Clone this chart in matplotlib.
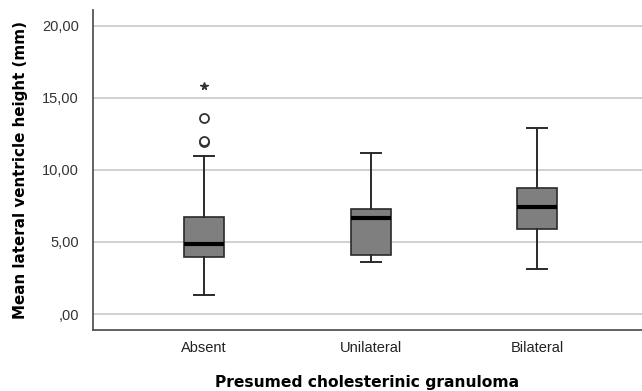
import matplotlib.pyplot as plt

# group names and five-number summaries (mm)
groups = ['Absent', 'Unilateral', 'Bilateral']
q1 = [3.99, 4.07, 5.88]
median = [4.86, 6.64, 7.43]
q3 = [6.76, 7.31, 8.73]
whisker_low = [1.32, 3.61, 3.10]
whisker_high = [10.97, 11.18, 12.92]
outliers = [[11.92, 11.98, 13.59], [], []]
extremes = [[15.80], [], []]

yticks = [0, 5, 10, 15, 20]
ytick_labels = [',00', '5,00', '10,00', '15,00', '20,00']

stats = []
for i, name in enumerate(groups):
    stats.append({
        'label': name,
        'q1': q1[i], 'med': median[i], 'q3': q3[i],
        'whislo': whisker_low[i], 'whishi': whisker_high[i],
        'fliers': outliers[i],
    })

fig = plt.figure(figsize=(6.42, 3.91), dpi=100)
ax = fig.add_axes([93/642, 1 - 330/391, 549/642, 320/391])

pos = list(range(len(groups)))
ax.bxp(stats, positions=pos, widths=0.24, patch_artist=True,
       boxprops=dict(facecolor='#7f7f7f', edgecolor='#2a2a2a', linewidth=1.2),
       medianprops=dict(color='black', linewidth=3),
       whiskerprops=dict(color='#2a2a2a', linewidth=1.4),
       capprops=dict(color='#2a2a2a', linewidth=1.4),
       capwidths=0.12,
       flierprops=dict(marker='o', markerfacecolor='white', markeredgecolor='#333333',
                       markersize=6.5, markeredgewidth=1.3),
       zorder=3)

for i, vals in enumerate(extremes):
    if vals:
        ax.plot([pos[i]] * len(vals), vals, linestyle='none', marker='*',
                color='#333333', markersize=5.5, zorder=3)

ax.set_xlim(-0.667, 2.63)
ax.set_ylim(-1.11, 21.1)
ax.set_yticks(yticks)
ax.set_yticklabels(ytick_labels, fontfamily='Liberation Sans', fontsize=10.5, color='#333333')
ax.set_xticks(pos)
ax.set_xticklabels(groups, fontfamily='Liberation Sans', fontsize=10.5, color='#222222')
ax.tick_params(axis='y', length=0, pad=10)
ax.tick_params(axis='x', length=0, pad=8)

ax.grid(axis='y', color='#c8c8c8', linewidth=1.2, zorder=0)
ax.set_axisbelow(True)
for side in ['top', 'right']:
    ax.spines[side].set_visible(False)
for side in ['left', 'bottom']:
    ax.spines[side].set_color('#555555')
    ax.spines[side].set_linewidth(1.3)

ax.set_ylabel('Mean lateral ventricle height (mm)', fontfamily='DejaVu Sans',
              fontweight='bold', fontsize=10.9, labelpad=10)
ax.set_xlabel('Presumed cholesterinic granuloma', fontfamily='DejaVu Sans',
              fontweight='bold', fontsize=11.2, labelpad=14)

fig.savefig('out.png', dpi=100)
